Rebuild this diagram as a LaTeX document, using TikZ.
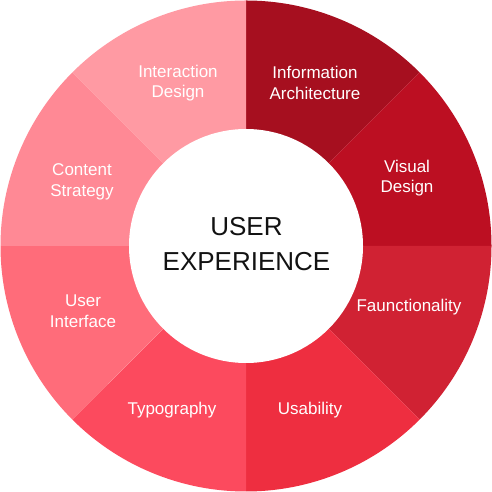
\documentclass[tikz,border=0pt]{standalone}
\usepackage{fontspec}
\setmainfont{Liberation Sans}
\definecolor{cIA}{HTML}{A60F1F}
\definecolor{cVD}{HTML}{BC0F22}
\definecolor{cFU}{HTML}{D02233}
\definecolor{cUS}{HTML}{EE2E40}
\definecolor{cTY}{HTML}{FC4A5E}
\definecolor{cUI}{HTML}{FF6C7A}
\definecolor{cCS}{HTML}{FF8995}
\definecolor{cID}{HTML}{FF9AA3}
\begin{document}
\begin{tikzpicture}[x=1pt,y=1pt,
  seglabel/.style={text=white,align=center,inner sep=0pt,font=\fontsize{17}{20.5}\selectfont},
  hublabel/.style={text=black!93,align=center,inner sep=0pt,font=\fontsize{26}{35.7}\selectfont}]
\useasboundingbox (0,0) rectangle (492,492);
\begin{scope}[shift={(246,246)}]
  \foreach \a/\c in {90/cIA,45/cVD,0/cFU,-45/cUS,-90/cTY,-135/cUI,-180/cCS,-225/cID}{
    \fill[\c] (0,0) -- (\a:245.5) arc[start angle=\a, end angle=\a-45, radius=245.5] -- cycle;
  }
  \fill[white] (0,0) circle[radius=117];
\end{scope}
\node[hublabel] (hub) at (246.5,248) {USER\\EXPERIENCE};
\node[seglabel] (ia) at (315,409) {Information\\Architecture};
\node[seglabel] (vd) at (407,314) {Visual\\Design};
\node[seglabel] (fu) at (409,185) {Faunctionality};
\node[seglabel] (us) at (310,82) {Usability};
\node[seglabel] (ty) at (172,82) {Typography};
\node[seglabel] (ui) at (83,181) {User\\Interface};
\node[seglabel] (cs) at (82,310) {Content\\Strategy};
\node[seglabel] (id) at (178,409) {Interaction\\Design};
\end{tikzpicture}
\end{document}
